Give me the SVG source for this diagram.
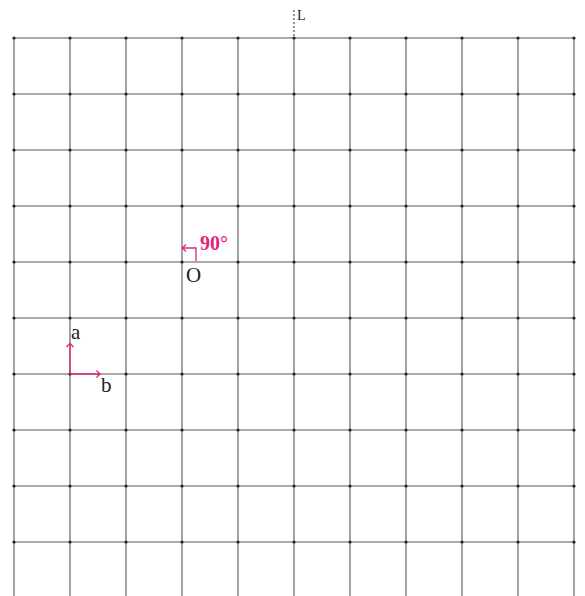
<svg xmlns="http://www.w3.org/2000/svg" width="585" height="596" viewBox="0 0 585 596">
<style>
.v{stroke:#8a8a8a;stroke-width:1.6}
.h{stroke:#555;stroke-width:1.2}
.d{fill:#222}
.t{font-family:"Liberation Serif",serif;fill:#222}
.p{stroke:#e0247e;stroke-width:1.3;fill:none}
</style>
<rect width="585" height="596" fill="#fff"/>
<g id="grid">
<path class="v" d="M14 38V596M70 38V596M126 38V596M182 38V596M238 38V596M294 38V596M350 38V596M406 38V596M462 38V596M518 38V596M574 38V596"/>
<path class="h" d="M14 38H574M14 94H574M14 150H574M14 206H574M14 262H574M14 318H574M14 374H574M14 430H574M14 486H574M14 542H574"/>
</g>
<g id="points" class="d">
<circle cx="14" cy="38" r="1.6"/><circle cx="70" cy="38" r="1.6"/><circle cx="126" cy="38" r="1.6"/><circle cx="182" cy="38" r="1.6"/><circle cx="238" cy="38" r="1.6"/><circle cx="294" cy="38" r="1.6"/><circle cx="350" cy="38" r="1.6"/><circle cx="406" cy="38" r="1.6"/><circle cx="462" cy="38" r="1.6"/><circle cx="518" cy="38" r="1.6"/><circle cx="574" cy="38" r="1.6"/>
<circle cx="14" cy="94" r="1.6"/><circle cx="70" cy="94" r="1.6"/><circle cx="126" cy="94" r="1.6"/><circle cx="182" cy="94" r="1.6"/><circle cx="238" cy="94" r="1.6"/><circle cx="294" cy="94" r="1.6"/><circle cx="350" cy="94" r="1.6"/><circle cx="406" cy="94" r="1.6"/><circle cx="462" cy="94" r="1.6"/><circle cx="518" cy="94" r="1.6"/><circle cx="574" cy="94" r="1.6"/>
<circle cx="14" cy="150" r="1.6"/><circle cx="70" cy="150" r="1.6"/><circle cx="126" cy="150" r="1.6"/><circle cx="182" cy="150" r="1.6"/><circle cx="238" cy="150" r="1.6"/><circle cx="294" cy="150" r="1.6"/><circle cx="350" cy="150" r="1.6"/><circle cx="406" cy="150" r="1.6"/><circle cx="462" cy="150" r="1.6"/><circle cx="518" cy="150" r="1.6"/><circle cx="574" cy="150" r="1.6"/>
<circle cx="14" cy="206" r="1.6"/><circle cx="70" cy="206" r="1.6"/><circle cx="126" cy="206" r="1.6"/><circle cx="182" cy="206" r="1.6"/><circle cx="238" cy="206" r="1.6"/><circle cx="294" cy="206" r="1.6"/><circle cx="350" cy="206" r="1.6"/><circle cx="406" cy="206" r="1.6"/><circle cx="462" cy="206" r="1.6"/><circle cx="518" cy="206" r="1.6"/><circle cx="574" cy="206" r="1.6"/>
<circle cx="14" cy="262" r="1.6"/><circle cx="70" cy="262" r="1.6"/><circle cx="126" cy="262" r="1.6"/><circle cx="182" cy="262" r="1.6"/><circle cx="238" cy="262" r="1.6"/><circle cx="294" cy="262" r="1.6"/><circle cx="350" cy="262" r="1.6"/><circle cx="406" cy="262" r="1.6"/><circle cx="462" cy="262" r="1.6"/><circle cx="518" cy="262" r="1.6"/><circle cx="574" cy="262" r="1.6"/>
<circle cx="14" cy="318" r="1.6"/><circle cx="70" cy="318" r="1.6"/><circle cx="126" cy="318" r="1.6"/><circle cx="182" cy="318" r="1.6"/><circle cx="238" cy="318" r="1.6"/><circle cx="294" cy="318" r="1.6"/><circle cx="350" cy="318" r="1.6"/><circle cx="406" cy="318" r="1.6"/><circle cx="462" cy="318" r="1.6"/><circle cx="518" cy="318" r="1.6"/><circle cx="574" cy="318" r="1.6"/>
<circle cx="14" cy="374" r="1.6"/><circle cx="70" cy="374" r="1.6"/><circle cx="126" cy="374" r="1.6"/><circle cx="182" cy="374" r="1.6"/><circle cx="238" cy="374" r="1.6"/><circle cx="294" cy="374" r="1.6"/><circle cx="350" cy="374" r="1.6"/><circle cx="406" cy="374" r="1.6"/><circle cx="462" cy="374" r="1.6"/><circle cx="518" cy="374" r="1.6"/><circle cx="574" cy="374" r="1.6"/>
<circle cx="14" cy="430" r="1.6"/><circle cx="70" cy="430" r="1.6"/><circle cx="126" cy="430" r="1.6"/><circle cx="182" cy="430" r="1.6"/><circle cx="238" cy="430" r="1.6"/><circle cx="294" cy="430" r="1.6"/><circle cx="350" cy="430" r="1.6"/><circle cx="406" cy="430" r="1.6"/><circle cx="462" cy="430" r="1.6"/><circle cx="518" cy="430" r="1.6"/><circle cx="574" cy="430" r="1.6"/>
<circle cx="14" cy="486" r="1.6"/><circle cx="70" cy="486" r="1.6"/><circle cx="126" cy="486" r="1.6"/><circle cx="182" cy="486" r="1.6"/><circle cx="238" cy="486" r="1.6"/><circle cx="294" cy="486" r="1.6"/><circle cx="350" cy="486" r="1.6"/><circle cx="406" cy="486" r="1.6"/><circle cx="462" cy="486" r="1.6"/><circle cx="518" cy="486" r="1.6"/><circle cx="574" cy="486" r="1.6"/>
<circle cx="14" cy="542" r="1.6"/><circle cx="70" cy="542" r="1.6"/><circle cx="126" cy="542" r="1.6"/><circle cx="182" cy="542" r="1.6"/><circle cx="238" cy="542" r="1.6"/><circle cx="294" cy="542" r="1.6"/><circle cx="350" cy="542" r="1.6"/><circle cx="406" cy="542" r="1.6"/><circle cx="462" cy="542" r="1.6"/><circle cx="518" cy="542" r="1.6"/><circle cx="574" cy="542" r="1.6"/>
</g>
<g id="axis-L">
<path d="M294 10V38" stroke="#777" stroke-width="1.5" stroke-dasharray="2,2"/>
<text class="t" x="297" y="20" font-size="14">L</text>
</g>
<g id="rotation">
<path class="p" d="M196 261V248H182.5M186 244.5L182.5 248L186 251.5"/>
<text x="200" y="250" font-family="Liberation Serif,serif" font-size="20" font-weight="bold" fill="#e0247e">90°</text>
<text class="t" x="186" y="282" font-size="21">O</text>
</g>
<g id="vectors">
<path class="p" d="M70 374V343.5M66.5 347L70 343.5L73.5 347M70 374H100M96.5 370.5L100 374L96.5 377.5"/>
<text class="t" x="71" y="339" font-size="21">a</text>
<text class="t" x="101" y="392" font-size="21">b</text>
</g>
</svg>
